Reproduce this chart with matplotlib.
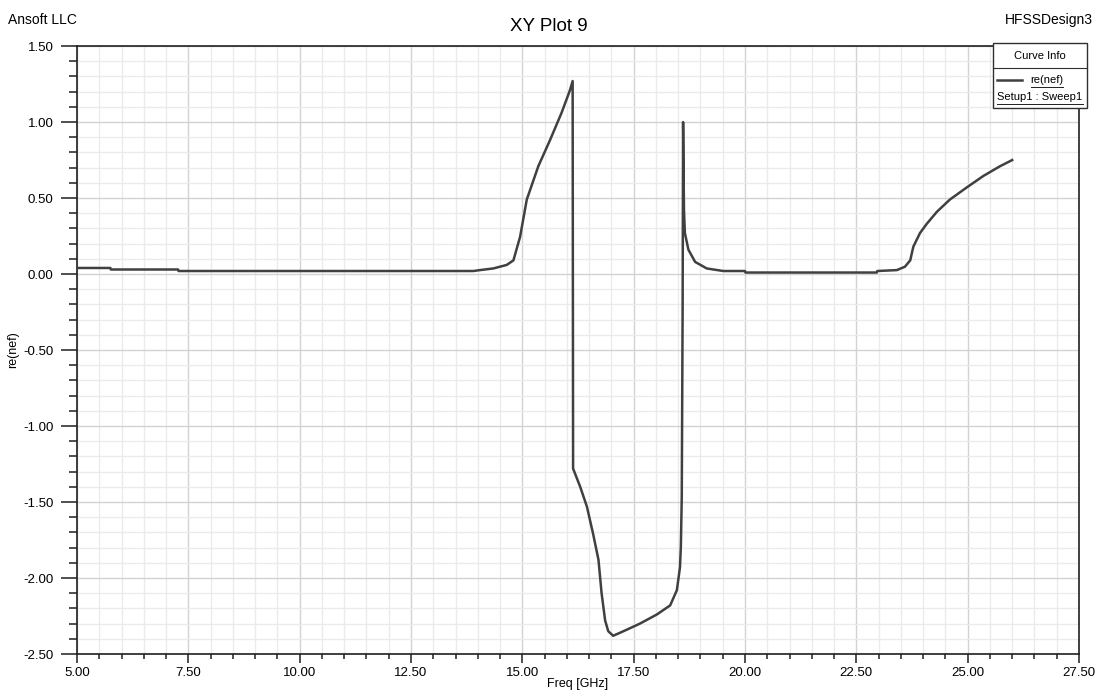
import numpy as np
import matplotlib
matplotlib.use("Agg")
import matplotlib.pyplot as plt
from matplotlib.ticker import MultipleLocator

plt.rcParams.update({
    "font.family": ["Liberation Sans", "DejaVu Sans"],
    "font.size": 9,
})

# re(nef) vs frequency
freq = [5.00, 5.75, 5.76, 7.27, 7.28, 13.90, 14.05, 14.35, 14.65, 14.80,
        14.95, 15.10, 15.36, 15.62, 15.88, 16.07, 16.13, 16.14, 16.30, 16.45,
        16.59, 16.71, 16.78, 16.86, 16.93, 17.04, 17.27, 17.64, 18.02, 18.32,
        18.47, 18.54, 18.56, 18.58, 18.60, 18.61, 18.63, 18.65, 18.73, 18.88,
        19.14, 19.51, 20.00, 20.01, 22.96, 22.97, 23.41, 23.59, 23.71, 23.78,
        23.93, 24.08, 24.31, 24.60, 24.98, 25.35, 25.73, 26.00]
re_nef = [0.040, 0.040, 0.030, 0.030, 0.020, 0.020, 0.026, 0.037, 0.060, 0.090,
          0.245, 0.490, 0.710, 0.880, 1.060, 1.210, 1.270, -1.280, -1.400, -1.530,
          -1.710, -1.880, -2.100, -2.280, -2.350, -2.380, -2.350, -2.300, -2.240, -2.180,
          -2.080, -1.930, -1.790, -1.470, -0.200, 1.000, 0.420, 0.270, 0.160, 0.080,
          0.037, 0.020, 0.020, 0.010, 0.010, 0.020, 0.026, 0.048, 0.090, 0.180,
          0.270, 0.330, 0.410, 0.490, 0.570, 0.645, 0.710, 0.750]

x_ticks = [5.00, 7.50, 10.00, 12.50, 15.00, 17.50, 20.00, 22.50, 25.00, 27.50]
y_ticks = [-2.50, -2.00, -1.50, -1.00, -0.50, 0.00, 0.50, 1.00, 1.50]

fig = plt.figure(figsize=(10.98, 6.98), dpi=100)
ax = fig.add_axes([0.0701, 0.063, 0.9126, 0.871])

ax.plot(freq, re_nef, color="#404040", lw=1.8, solid_joinstyle="round", zorder=3)

ax.set_xlim(5.0, 27.5)
ax.set_ylim(-2.5, 1.5)
ax.set_xticks(x_ticks)
ax.set_xticklabels([f"{v:.2f}" for v in x_ticks])
ax.set_yticks(y_ticks)
ax.set_yticklabels([f"{v:.2f}" for v in y_ticks])
ax.xaxis.set_minor_locator(MultipleLocator(0.5))
ax.yaxis.set_minor_locator(MultipleLocator(0.1))

ax.grid(which="major", color="#d2d2d2", lw=1.0, zorder=0)
ax.grid(which="minor", color="#ebebeb", lw=1.0, zorder=0)
ax.set_axisbelow(True)

ax.tick_params(axis="y", which="major", length=11.5, width=1.2, pad=5.5,
               color="#303030", labelsize=9.5)
ax.tick_params(axis="y", which="minor", length=5.8, width=1.2, color="#303030")
ax.tick_params(axis="x", which="major", length=6.5, width=1.2, pad=3,
               color="#303030", labelsize=9.5)
ax.tick_params(axis="x", which="minor", length=3.6, width=1.2, color="#303030")
for s in ax.spines.values():
    s.set_color("#202020")
    s.set_linewidth(1.2)

ax.set_xlabel("Freq [GHz]", fontsize=9, labelpad=-1)
ax.yaxis.set_label_coords(-0.058, 0.5)
ax.set_ylabel("re(nef)", fontsize=9)

fig.text(0.5, 0.962, "XY Plot 9", ha="center", va="center", fontsize=13.5)
fig.text(0.007, 0.971, "Ansoft LLC", ha="left", va="center", fontsize=10)
fig.text(0.995, 0.971, "HFSSDesign3", ha="right", va="center", fontsize=10)

# Curve Info box
bx0, bx1 = 993 / 1098, 1087 / 1098
by0, by1 = 1 - 108 / 698, 1 - 43 / 698
box = plt.Rectangle((bx0, by0), bx1 - bx0, by1 - by0, transform=fig.transFigure,
                    facecolor="white", edgecolor="#303030", lw=1.0, zorder=5)
fig.add_artist(box)
ydiv = 1 - 68 / 698
fig.add_artist(plt.Line2D([bx0, bx1], [ydiv, ydiv], transform=fig.transFigure,
                          color="#303030", lw=0.8, zorder=6))
fig.text((bx0 + bx1) / 2, 1 - 56 / 698, "Curve Info", ha="center", va="center",
         fontsize=8, zorder=7)
yl = 1 - 80 / 698
fig.add_artist(plt.Line2D([997 / 1098, 1022 / 1098], [yl, yl], transform=fig.transFigure,
                          color="#404040", lw=1.8, zorder=6))
fig.text(1047 / 1098, yl, "re(nef)", ha="center", va="center", fontsize=8, zorder=7)
fig.add_artist(plt.Line2D([1031 / 1098, 1063 / 1098], [yl - 7 / 698, yl - 7 / 698],
                          transform=fig.transFigure, color="#202020", lw=0.7, zorder=6))
ys = 1 - 97 / 698
fig.text(1040 / 1098, ys, "Setup1 : Sweep1", ha="center", va="center", fontsize=8, zorder=7)
fig.add_artist(plt.Line2D([997 / 1098, 1083 / 1098], [ys - 7 / 698, ys - 7 / 698],
                          transform=fig.transFigure, color="#202020", lw=0.7, zorder=6))

fig.savefig("out.png", dpi=100)
